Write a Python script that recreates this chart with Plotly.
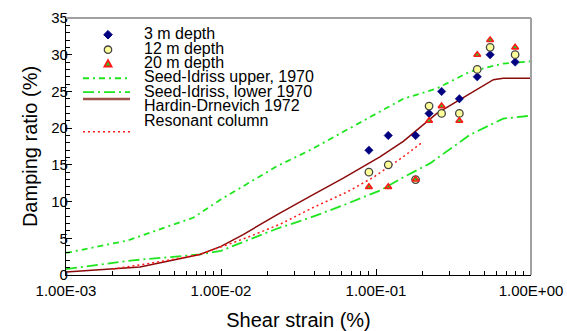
import plotly.graph_objects as go

# ---------------- data ----------------
strain_pts = [0.09, 0.12, 0.18, 0.22, 0.265, 0.345, 0.45, 0.545, 0.79]
damp_3m = [17, 19, 19, 22, 25, 24, 27, 30, 29]
damp_12m = [14, 15, 13, 23, 22, 22, 28, 31, 30]
damp_20m = [12, 12, 13, 21, 23, 21, 30, 32, 31]

upper_x = [0.001, 0.0025, 0.0066, 0.01, 0.0229, 0.0375, 0.0615, 0.106, 0.15, 0.247, 0.404, 0.662, 1.0]
upper_y = [3.0, 4.7, 7.8, 10.3, 14.8, 17.0, 19.5, 22.2, 24.0, 25.4, 27.7, 28.8, 29.1]

lower_x = [0.001, 0.0027, 0.0073, 0.01, 0.0139, 0.0229, 0.0375, 0.0615, 0.106, 0.15, 0.223, 0.404, 0.662, 1.0]
lower_y = [0.8, 2.0, 2.8, 3.3, 4.5, 6.3, 7.8, 9.5, 11.5, 13.3, 15.2, 19.1, 21.3, 21.7]

hardin_x = [0.001, 0.003, 0.0073, 0.01, 0.0139, 0.0229, 0.0375, 0.0615, 0.106, 0.15, 0.247, 0.404, 0.572, 0.662, 1.0]
hardin_y = [0.4, 1.1, 2.8, 3.9, 5.5, 8.2, 10.7, 13.2, 16.1, 18.2, 22.0, 24.7, 26.6, 26.8, 26.8]

rc_x = [0.002, 0.004, 0.0073, 0.0139, 0.024, 0.0394, 0.065, 0.096, 0.15, 0.197]
rc_y = [0.8, 1.8, 2.8, 4.9, 6.9, 9.2, 11.3, 13.3, 16.1, 18.0]

x_tickvals = [0.001, 0.01, 0.1, 1.0]
x_ticktext = ["1.00E-03", "1.00E-02", "1.00E-01", "1.00E+00"]

legend_labels = ["3 m depth", "12 m depth", "20 m depth", "Seed-Idriss upper, 1970",
                 "Seed-Idriss, lower 1970", "Hardin-Drnevich 1972", "Resonant column"]

# ---------------- styles ----------------
FONT = "Liberation Sans, Arial, sans-serif"
GREEN = "#1ee61e"
NAVY = "#000080"
DARKRED = "#8b0a0a"
RED = "#ff1a1a"
UPPER_DASH = "6px,4px,2px,4px"
LOWER_DASH = "11px,4px,2px,4px"
DOT_DASH = "2px,3px"

W, H = 567, 331
ML, MR, MT, MB = 66, 36, 17.5, 55.5
PW, PH = W - ML - MR, H - MT - MB

def px(xp):
    return (xp - ML) / PW

def py(yp):
    return (H - MB - yp) / PH

fig = go.Figure()

fig.add_trace(go.Scatter(x=upper_x, y=upper_y, mode="lines",
                         line=dict(color=GREEN, width=1.8, dash=UPPER_DASH), showlegend=False))
fig.add_trace(go.Scatter(x=lower_x, y=lower_y, mode="lines",
                         line=dict(color=GREEN, width=1.8, dash=LOWER_DASH), showlegend=False))
fig.add_trace(go.Scatter(x=hardin_x, y=hardin_y, mode="lines",
                         line=dict(color=DARKRED, width=1.5), showlegend=False))
fig.add_trace(go.Scatter(x=rc_x, y=rc_y, mode="lines",
                         line=dict(color=RED, width=1.5, dash=DOT_DASH), showlegend=False))

fig.add_trace(go.Scatter(x=strain_pts, y=damp_3m, mode="markers",
                         marker=dict(symbol="diamond", size=6.5, color=NAVY,
                                     line=dict(color=NAVY, width=0.5)), showlegend=False))
fig.add_trace(go.Scatter(x=strain_pts, y=damp_12m, mode="markers",
                         marker=dict(symbol="circle", size=7.5, color="#ffff99",
                                     line=dict(color="#444444", width=1.3)), showlegend=False))
fig.add_trace(go.Scatter(x=strain_pts, y=damp_20m, mode="markers",
                         marker=dict(symbol="triangle-up", size=6, color="#22cc22",
                                     line=dict(color=RED, width=1.6)), showlegend=False))

# ---------------- manual legend ----------------
text_y = [32.7, 47.7, 61.7, 76.7, 91.2, 105.5, 120.7]
key_y = [34.3, 49.3, 63.3, 78.0, 92.0, 98.7, 131.7]
TEXT_X = 143
MK_X = 108
LINE_X0, LINE_X1 = 83, 130

annotations = []
for lab, ty in zip(legend_labels, text_y):
    annotations.append(dict(x=px(TEXT_X), y=py(ty), xref="paper", yref="paper",
                            text=lab, showarrow=False, xanchor="left", yanchor="middle",
                            borderpad=0,
                            font=dict(family=FONT, size=16, color="black")))

shapes = []
# diamond
r = 4.3
cy = key_y[0]
shapes.append(dict(type="path", xref="paper", yref="paper",
                   path=f"M {px(MK_X - r)} {py(cy)} L {px(MK_X)} {py(cy - r)} L {px(MK_X + r)} {py(cy)} L {px(MK_X)} {py(cy + r)} Z",
                   fillcolor=NAVY, line=dict(color=NAVY, width=1)))
# circle
r = 3.7
cy = key_y[1]
shapes.append(dict(type="circle", xref="paper", yref="paper",
                   x0=px(MK_X - r), x1=px(MK_X + r), y0=py(cy + r), y1=py(cy - r),
                   fillcolor="#ffff99", line=dict(color="#444444", width=1.3)))
# triangle
r = 3.6
cy = key_y[2]
shapes.append(dict(type="path", xref="paper", yref="paper",
                   path=f"M {px(MK_X - r)} {py(cy + r * 0.8)} L {px(MK_X + r)} {py(cy + r * 0.8)} L {px(MK_X)} {py(cy - r)} Z",
                   fillcolor="#22cc22", line=dict(color=RED, width=1.8)))
line_styles = [(GREEN, 1.8, UPPER_DASH), (GREEN, 1.8, LOWER_DASH), ("#a0504a", 2.5, "solid"), (RED, 1.5, DOT_DASH)]
for (col, wd, ds), ky in zip(line_styles, key_y[3:]):
    shapes.append(dict(type="line", xref="paper", yref="paper",
                       x0=px(LINE_X0), x1=px(LINE_X1), y0=py(ky), y1=py(ky),
                       line=dict(color=col, width=wd, dash=ds)))

# gray top/right frame
shapes.append(dict(type="line", xref="paper", yref="paper", x0=0, x1=1, y0=1, y1=1,
                   line=dict(color="#a0a0a0", width=2)))
shapes.append(dict(type="line", xref="paper", yref="paper", x0=1, x1=1, y0=0, y1=1,
                   line=dict(color="#a0a0a0", width=2)))

minor_x = [m * 10 ** e for e in (-3, -2, -1) for m in range(2, 10)]

fig.update_layout(
    width=W, height=H,
    margin=dict(l=ML, r=MR, t=MT, b=MB, pad=0),
    paper_bgcolor="white", plot_bgcolor="white",
    font=dict(family=FONT, color="black"),
    showlegend=False,
    annotations=annotations,
    shapes=shapes,
    xaxis=dict(type="log", range=[-3, 0], tickvals=x_tickvals, ticktext=x_ticktext,
               automargin=False,
               ticks="inside", ticklen=6, tickwidth=1, tickcolor="black",
               showline=True, linecolor="black", linewidth=1.2,
               showgrid=False, zeroline=False,
               tickfont=dict(family=FONT, size=15, color="black"),
               ticklabelstandoff=2,
               minor=dict(tickvals=minor_x, ticks="inside", ticklen=3.5, tickcolor="black", showgrid=False),
               title=dict(text="Shear strain (%)", font=dict(family=FONT, size=20, color="black"), standoff=15)),
    yaxis=dict(range=[0, 35], dtick=5, tick0=0,
               automargin=False,
               ticks="inside", ticklen=6, tickwidth=1, tickcolor="black",
               showline=True, linecolor="black", linewidth=1.2,
               showgrid=False, zeroline=False,
               tickfont=dict(family=FONT, size=15, color="black"),
               ticklabelstandoff=-6,
               minor=dict(dtick=1, ticks="inside", ticklen=3.5, tickcolor="black", showgrid=False),
               title=dict(text="Damping ratio (%)", font=dict(family=FONT, size=20, color="black"), standoff=8)),
)

fig.write_html("out.html")
